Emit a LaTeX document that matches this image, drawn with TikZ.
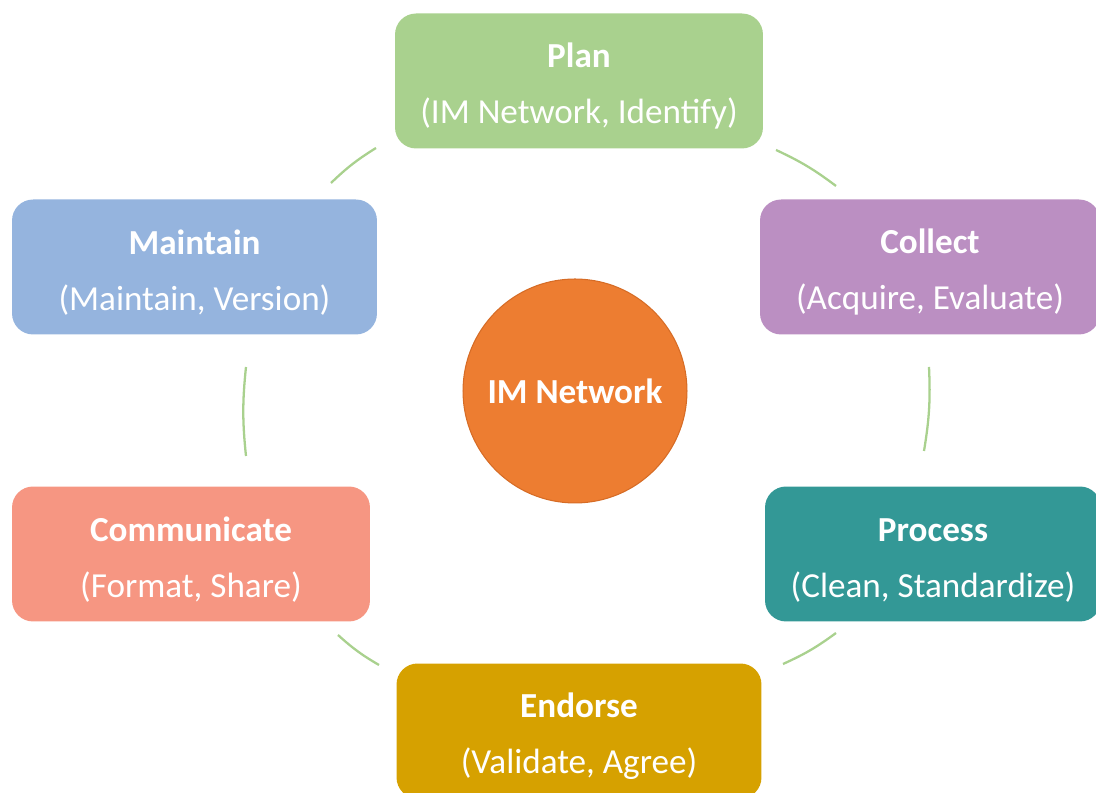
\documentclass[tikz,border=0pt]{standalone}
\usepackage{fontspec}
\setmainfont{Carlito}
\definecolor{PlanClr}{RGB}{169,209,142}
\definecolor{CollectClr}{RGB}{187,143,194}
\definecolor{ProcessClr}{RGB}{51,152,150}
\definecolor{EndorseClr}{RGB}{214,161,0}
\definecolor{CommClr}{RGB}{246,150,130}
\definecolor{MaintainClr}{RGB}{149,180,222}
\definecolor{HubClr}{RGB}{237,125,49}
\definecolor{HubLineClr}{RGB}{214,108,38}
\definecolor{RingClr}{RGB}{169,209,142}

% title over the two key words of a stage
\newcommand\stagetext[2]{\rule{0pt}{20pt}\textbf{#1}\\(#2)}

\begin{document}
\begin{tikzpicture}[x=0.02cm,y=0.02cm,
  stage/.style={rounded corners=0.42cm,minimum height=2.7cm,text=white,
    align=center,font=\fontsize{20}{32}\selectfont,inner sep=0pt},
  hub/.style={circle,fill=HubClr,draw=HubLineClr,line width=0.6pt,
    minimum size=4.48cm,text=white,font=\fontsize{20}{24}\selectfont\bfseries},
  ring/.style={RingClr,line width=1.3pt}]
\useasboundingbox (0,0) rectangle (1096,793);

% stages round the cycle
\node[stage,fill=PlanClr,minimum width=7.36cm] (plan) at (579,712)
  {\stagetext{Plan}{IM Network, Identify}};
\node[stage,fill=CollectClr,minimum width=6.8cm] (collect) at (930,526)
  {\stagetext{Collect}{Acquire, Evaluate}};
\node[stage,fill=ProcessClr,minimum width=6.72cm] (process) at (933,239)
  {\stagetext{Process}{Clean, Standardize}};
\node[stage,fill=EndorseClr,minimum width=7.3cm] (endorse) at (579,62)
  {\stagetext{Endorse}{Validate, Agree}};
\node[stage,fill=CommClr,minimum width=7.16cm] (comm) at (191,239)
  {\stagetext{Communicate}{Format, Share}};
\node[stage,fill=MaintainClr,minimum width=7.3cm] (maintain) at (194.5,526)
  {\stagetext{Maintain}{Maintain, Version}};

% centre
\node[hub] (hub) at (575,402) {IM Network};

% ring pieces between the stages, clockwise
\coordinate (r1a) at (331,610); \coordinate (r1b) at (376,645);
\coordinate (r2a) at (776,643); \coordinate (r2b) at (836,607);
\coordinate (r3a) at (929,426); \coordinate (r3b) at (924,342);
\coordinate (r4a) at (836,160); \coordinate (r4b) at (783,129);
\coordinate (r5a) at (379,128); \coordinate (r5b) at (338,158);
\coordinate (r6a) at (246,337); \coordinate (r6b) at (246,426);
\foreach \i in {1,...,6}
  \draw[ring] (r\i a) to[bend left=6] (r\i b);

\end{tikzpicture}
\end{document}
